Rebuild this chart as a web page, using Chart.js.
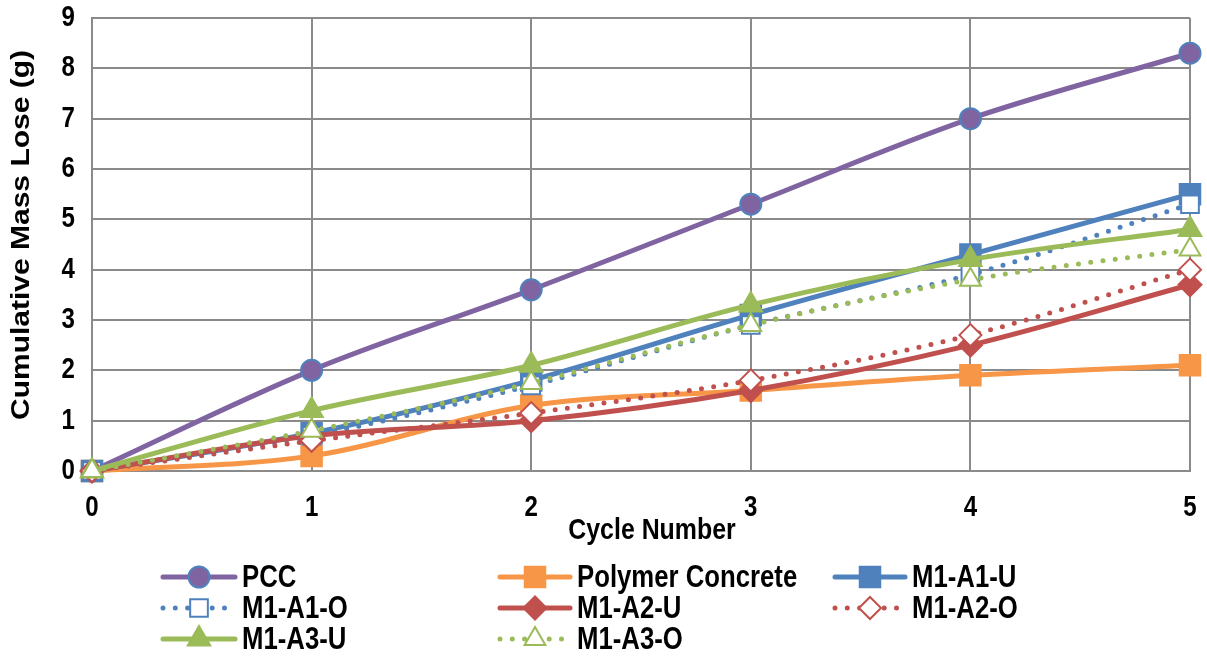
<!DOCTYPE html>
<html>
<head>
<meta charset="utf-8">
<script src="https://cdn.jsdelivr.net/npm/chart.js@4.4.1/dist/chart.umd.min.js"></script>
<style>
  html, body { margin: 0; padding: 0; background: #fff; }
  #wrap { position: relative; width: 1207px; height: 657px; }
</style>
</head>
<body>
<div id="wrap"><canvas id="c"></canvas></div>
<script>
// cumulative mass loss per freeze/thaw cycle
const CYCLES   = ['0', '1', '2', '3', '4', '5'];
const PCC      = [0, 2.0, 3.6, 5.3, 7.0, 8.3];
const POLYMER  = [0, 0.3, 1.3, 1.6, 1.9, 2.1];
const M1_A1_U  = [0, 0.75, 1.8, 3.1, 4.3, 5.5];
const M1_A1_O  = [0, 0.7, 1.7, 2.9, 3.9, 5.3];
const M1_A2_U  = [0, 0.7, 1.0, 1.6, 2.5, 3.7];
const M1_A2_O  = [0, 0.6, 1.15, 1.8, 2.7, 4.0];
const M1_A3_U  = [0, 1.2, 2.1, 3.3, 4.2, 4.8];
const M1_A3_O  = [0, 0.8, 1.75, 2.9, 3.8, 4.4];
const Y_TICKS  = [0, 1, 2, 3, 4, 5, 6, 7, 8, 9];

const PURPLE = '#8064A2', ORANGE = '#F79646', BLUE = '#4F81BD', RED = '#C0504D', GREEN = '#9BBB59';
const GRID = '#8a8a8a';
const FONT = "'Liberation Sans', Arial, sans-serif";
const SQUEEZE = 0.83;   // condensed look for all labels

// solid series: filled marker; dotted series: open (white) marker
function solid(label, data, color, style, r, border) {
  return {
    label, data, borderColor: color, backgroundColor: color,
    borderWidth: 5, tension: 0.33, clip: false,
    pointStyle: style, pointRadius: r, pointHoverRadius: r,
    pointBackgroundColor: color, pointBorderColor: border || color, pointBorderWidth: 2,
  };
}
function dotted(label, data, color, style, r) {
  return {
    label, data, borderColor: color, backgroundColor: '#fff',
    borderWidth: 5, tension: 0.33, clip: false,
    borderDash: [0, 12.3], borderCapStyle: 'round',
    pointStyle: style, pointRadius: r, pointHoverRadius: r,
    pointBackgroundColor: '#fff', pointBorderColor: color, pointBorderWidth: 2,
  };
}

const datasets = [
  solid('PCC', PCC, PURPLE, 'circle', 10.5, BLUE),
  solid('Polymer Concrete', POLYMER, ORANGE, 'rect', 14.5),
  solid('M1-A1-U', M1_A1_U, BLUE, 'rect', 14.5),
  dotted('M1-A1-O', M1_A1_O, BLUE, 'rect', 12.5),
  solid('M1-A2-U', M1_A2_U, RED, 'rectRot', 11.5),
  dotted('M1-A2-O', M1_A2_O, RED, 'rectRot', 11),
  solid('M1-A3-U', M1_A3_U, GREEN, 'triangle', 13),
  dotted('M1-A3-O', M1_A3_O, GREEN, 'triangle', 12),
];
// later series sit on top
datasets.forEach((d, i) => { d.order = datasets.length - i; });

// legend: 3 fixed columns, drawn under the plot
const LEG_COLS = [{ x0: 163, x1: 235, tx: 242 }, { x0: 500, x1: 570, tx: 577 }, { x0: 835, x1: 905, tx: 912 }];
const LEG_ROWS = [577, 608, 639];

// text squeezed horizontally around its anchor point
function narrowText(ctx, text, x, y, align, size) {
  ctx.save();
  ctx.translate(x, y);
  ctx.scale(SQUEEZE, 1);
  ctx.font = 'bold ' + size + 'px ' + FONT;
  ctx.textAlign = align;
  ctx.textBaseline = 'middle';
  ctx.fillText(text, 0, 0);
  ctx.restore();
}

const labelsAndLegend = {
  id: 'labelsAndLegend',
  afterDraw(chart) {
    const { ctx, chartArea, scales } = chart;
    ctx.save();
    ctx.fillStyle = '#000';

    // tick labels from the scales
    CYCLES.forEach((c, i) => narrowText(ctx, c, scales.x.getPixelForValue(i), 508, 'center', 29));
    Y_TICKS.forEach((v) => narrowText(ctx, String(v), 75, scales.y.getPixelForValue(v), 'right', 29));

    // axis titles
    narrowText(ctx, 'Cycle Number', 652, 531, 'center', 30);
    ctx.save();
    ctx.translate(22, 235);
    ctx.scale(SQUEEZE, 1);
    ctx.rotate(-Math.PI / 2);
    ctx.font = 'bold 30px ' + FONT;
    ctx.textAlign = 'center';
    ctx.textBaseline = 'middle';
    ctx.fillText('Cumulative Mass Lose (g)', 0, 0);
    ctx.restore();

    // legend entries
    chart.data.datasets.forEach((ds, i) => {
      const col = LEG_COLS[i % 3], y = LEG_ROWS[Math.floor(i / 3)];
      ctx.save();
      ctx.strokeStyle = ds.borderColor;
      ctx.lineWidth = ds.borderWidth;
      ctx.lineCap = 'round';
      ctx.setLineDash(ds.borderDash || []);
      ctx.beginPath();
      ctx.moveTo(col.x0, y);
      ctx.lineTo(col.x1, y);
      ctx.stroke();
      ctx.restore();

      ctx.save();
      ctx.fillStyle = ds.pointBackgroundColor;
      ctx.strokeStyle = ds.pointBorderColor;
      ctx.lineWidth = ds.pointBorderWidth;
      Chart.helpers.drawPoint(ctx, { pointStyle: ds.pointStyle, radius: ds.pointRadius, borderWidth: ds.pointBorderWidth, rotation: 0 },
        (col.x0 + col.x1) / 2, y);
      ctx.restore();

      narrowText(ctx, ds.label, col.tx, y + 1, 'left', 31);
    });
    ctx.restore();
  },
};

new Chart(document.getElementById('c'), {
  type: 'line',
  data: { labels: CYCLES, datasets },
  options: {
    responsive: true, maintainAspectRatio: false,
    animation: false,
    layout: { padding: { top: 18, right: 17, left: 0, bottom: 0 } },
    plugins: { legend: { display: false }, tooltip: { enabled: false } },
    scales: {
      x: {
        offset: false,
        grid: { color: GRID, lineWidth: 2, drawTicks: false },
        border: { color: GRID, width: 2 },
        ticks: { display: false },
        afterFit: (s) => { s.height = 186; },
      },
      y: {
        min: 0, max: 9,
        afterBuildTicks: (s) => { s.ticks = Y_TICKS.map((v) => ({ value: v })); },
        grid: { color: GRID, lineWidth: 2, drawTicks: false },
        border: { color: GRID, width: 2 },
        ticks: { display: false },
        afterFit: (s) => { s.width = 92; },
      },
    },
  },
  plugins: [labelsAndLegend],
});
</script>
</body>
</html>
